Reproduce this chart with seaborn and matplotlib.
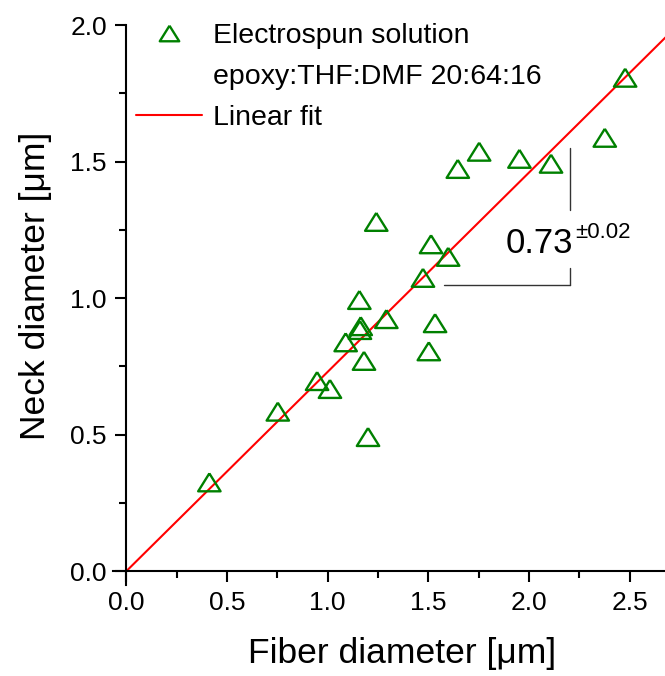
import numpy as np
import pandas as pd
import seaborn as sns
import matplotlib.pyplot as plt
from matplotlib.lines import Line2D
from matplotlib.ticker import MultipleLocator

# fiber vs neck diameter
fiber = [0.412, 0.752, 0.947, 1.011, 1.089, 1.157, 1.164, 1.160, 1.180, 1.200,
         1.241, 1.291, 1.473, 1.502, 1.513, 1.533, 1.598, 1.646, 1.752, 1.952,
         2.109, 2.376, 2.477]
neck = [0.325, 0.584, 0.696, 0.667, 0.838, 0.993, 0.897, 0.883, 0.770, 0.491,
        1.279, 0.923, 1.074, 0.805, 1.197, 0.908, 1.151, 1.473, 1.536, 1.510,
        1.492, 1.587, 1.807]
slope = 0.73
slope_err = 0.02
fit_x = [0.0, 2.75]

df = pd.DataFrame({"fiber": fiber, "neck": neck})
df_fit = pd.DataFrame({"x": fit_x, "y": [slope * v for v in fit_x]})

sns.set_style("ticks")
plt.rcParams['font.family'] = ['Liberation Sans', 'DejaVu Sans']
plt.rcParams.update({"text.color": "black", "axes.labelcolor": "black",
                     "xtick.color": "black", "ytick.color": "black",
                     "axes.edgecolor": "black"})

fig = plt.figure(figsize=(6.65, 6.76), dpi=100)
ax = fig.add_axes([0.1704, 0.135, 0.8296, 0.828])

tri = [(0, 0.8), (-1, -0.8), (1, -0.8), (0, 0.8)]
green = "#008000"

sns.lineplot(data=df_fit, x="x", y="y", color="red", linewidth=1.5, ax=ax)
sns.scatterplot(data=df, x="fiber", y="neck", marker=tri, s=260,
                facecolor="none", edgecolor=green, linewidth=1.7, ax=ax, zorder=3)

ax.set_xlim(-0.065, 2.675)
ax.set_ylim(-0.05, 2.0)

# axes cross at the origin, open on top and right
ax.spines['left'].set_position(('data', 0))
ax.spines['bottom'].set_position(('data', 0))
ax.spines['top'].set_visible(False)
ax.spines['right'].set_visible(False)
for sp in ['left', 'bottom']:
    ax.spines[sp].set_linewidth(1.5)

ax.xaxis.set_major_locator(MultipleLocator(0.5))
ax.xaxis.set_minor_locator(MultipleLocator(0.25))
ax.yaxis.set_major_locator(MultipleLocator(0.5))
ax.yaxis.set_minor_locator(MultipleLocator(0.25))
ax.xaxis.set_major_formatter(lambda v, p: f"{v:.1f}")
ax.yaxis.set_major_formatter(lambda v, p: f"{v:.1f}")
ax.tick_params(which='major', direction='out', length=8, width=1.5,
               labelsize=19, pad=6)
ax.tick_params(which='minor', direction='out', length=5, width=1.5)

ax.set_xlabel("Fiber diameter [μm]", fontsize=25.5, labelpad=16)
ax.set_ylabel("Neck diameter [μm]", fontsize=25.5, labelpad=13)
ax.xaxis.label.set_x(0.523)
ax.yaxis.label.set_y(0.534)

# slope triangle annotation
ax.plot([1.578, 2.204], [1.048, 1.048], color="#333333", linewidth=1)
ax.plot([2.204, 2.204], [1.048, 1.11], color="#333333", linewidth=1)
ax.plot([2.204, 2.204], [1.322, 1.549], color="#333333", linewidth=1)
ax.text(1.885, 1.165, f"{slope:.2f}", fontsize=25, ha="left", va="baseline")
ax.text(2.228, 1.22, f"±{slope_err:.2f}", fontsize=16, ha="left", va="baseline")

handles = [
    Line2D([], [], marker=tri, markersize=14, markerfacecolor="none",
           markeredgecolor=green, markeredgewidth=1.7, linestyle="none"),
    Line2D([], [], linestyle="none"),
    Line2D([], [], color="red", linewidth=1.5),
]
labels = ["Electrospun solution", "epoxy:THF:DMF 20:64:16", "Linear fit"]
ax.legend(handles, labels, loc="upper left", bbox_to_anchor=(-0.005, 1.05),
          frameon=False, fontsize=20.5, handlelength=2.3, handletextpad=0.4,
          labelspacing=0.54)

fig.savefig("out.png", dpi=100)
